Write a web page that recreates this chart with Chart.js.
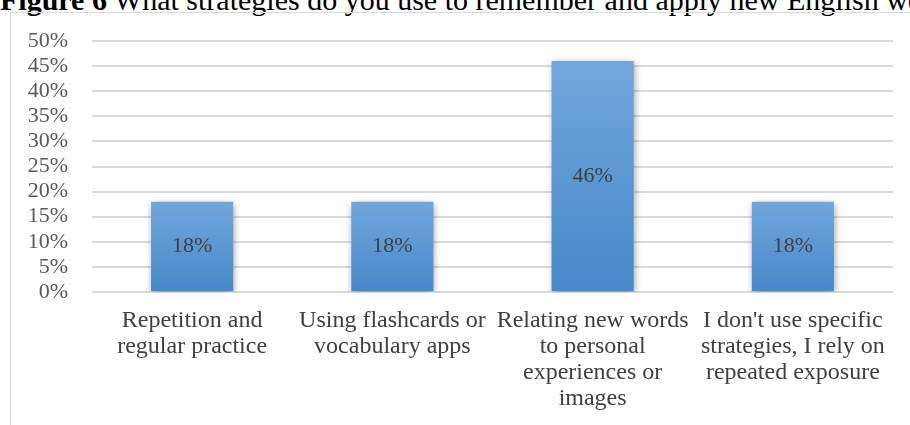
<!DOCTYPE html>
<html>
<head>
<meta charset="utf-8">
<script src="https://cdn.jsdelivr.net/npm/chart.js@4.4.1/dist/chart.umd.min.js"></script>
<style>
  html, body { margin: 0; padding: 0; background: #fff; overflow: hidden; }
  #wrap { position: relative; width: 910px; height: 425px; overflow: hidden; }
  #title {
    position: absolute; left: 0; top: -15px; white-space: nowrap;
    font-family: "Liberation Serif", "Times New Roman", serif; font-size: 30px; line-height: 30px; color: #000;
  }
  #frame {
    position: absolute; left: 10px; top: 12px; width: 1000px; height: 1000px;
    border-left: 1px solid #d9d9d9; border-top: 1px solid #d9d9d9;
  }
  #chart { position: absolute; left: 0; top: 0; }
</style>
</head>
<body>
<div id="wrap">
  <div id="title"><b>Figure 6</b> What strategies do you use to remember and apply new English words</div>
  <div id="frame"></div>
  <canvas id="chart" width="910" height="425"></canvas>
</div>
<script>
var categories = [
	['Repetition and', 'regular practice'],
	['Using flashcards or', 'vocabulary apps'],
	['Relating new words', 'to personal', 'experiences or', 'images'],
	["I don't use specific", 'strategies, I rely on', 'repeated exposure']
];
var shares = [18, 18, 46, 18];
var yTicks = [0, 5, 10, 15, 20, 25, 30, 35, 40, 45, 50];

var serif = '"Liberation Serif", "Times New Roman", serif';

// soft drop shadow behind the bars
var barShadow = {
	id: 'barShadow',
	beforeDatasetsDraw: function (chart) {
		var ctx = chart.ctx;
		ctx.save();
		ctx.shadowColor = 'rgba(0,0,0,0.4)';
		ctx.shadowBlur = 7;
		ctx.shadowOffsetX = 1;
		ctx.shadowOffsetY = 2;
	},
	afterDatasetsDraw: function (chart) {
		chart.ctx.restore();
	}
};

// value labels centered inside each bar
var barLabels = {
	id: 'barLabels',
	afterDraw: function (chart) {
		var ctx = chart.ctx;
		var meta = chart.getDatasetMeta(0);
		ctx.save();
		ctx.font = '22px ' + serif;
		ctx.fillStyle = '#404040';
		ctx.textAlign = 'center';
		ctx.textBaseline = 'middle';
		meta.data.forEach(function (bar, i) {
			var p = bar.getProps(['x', 'y', 'base'], true);
			ctx.fillText(shares[i] + '%', p.x, (p.y + p.base) / 2);
		});
		ctx.restore();
	}
};

function barFill(context) {
	var chart = context.chart;
	var area = chart.chartArea;
	if (!area) return '#5b9bd5';
	var y = chart.scales.y;
	var top = y.getPixelForValue(context.raw);
	var base = y.getPixelForValue(0);
	var g = chart.ctx.createLinearGradient(0, top, 0, base);
	g.addColorStop(0, '#72a7dc');
	g.addColorStop(1, '#4688c9');
	return g;
}

new Chart(document.getElementById('chart'), {
	type: 'bar',
	data: {
		labels: categories,
		datasets: [{
			data: shares,
			backgroundColor: barFill,
			borderWidth: 0,
			categoryPercentage: 1,
			barPercentage: 0.41
		}]
	},
	options: {
		responsive: false,
		animation: false,
		layout: { padding: { left: 0, right: 17, top: 41, bottom: 0 } },
		plugins: {
			legend: { display: false },
			tooltip: { enabled: false }
		},
		scales: {
			x: {
				grid: { display: false, drawTicks: false },
				border: { display: false },
				ticks: {
					color: '#404040',
					font: { family: serif, size: 24, lineHeight: 1.083 },
					padding: 16,
					maxRotation: 0,
					autoSkip: false
				},
				afterFit: function (scale) { scale.height = 133; }
			},
			y: {
				min: 0,
				max: 50,
				afterBuildTicks: function (scale) {
					scale.ticks = yTicks.map(function (v) { return { value: v }; });
				},
				grid: { color: '#d9d9d9', lineWidth: 2, drawTicks: false },
				border: { display: false },
				ticks: {
					color: '#595959',
					font: { family: serif, size: 22, lineHeight: 1 },
					padding: 24,
					autoSkip: false,
					callback: function (v) { return v + '%'; }
				},
				afterFit: function (scale) { scale.width = 92; }
			}
		}
	},
	plugins: [barShadow, barLabels]
});
</script>
</body>
</html>
